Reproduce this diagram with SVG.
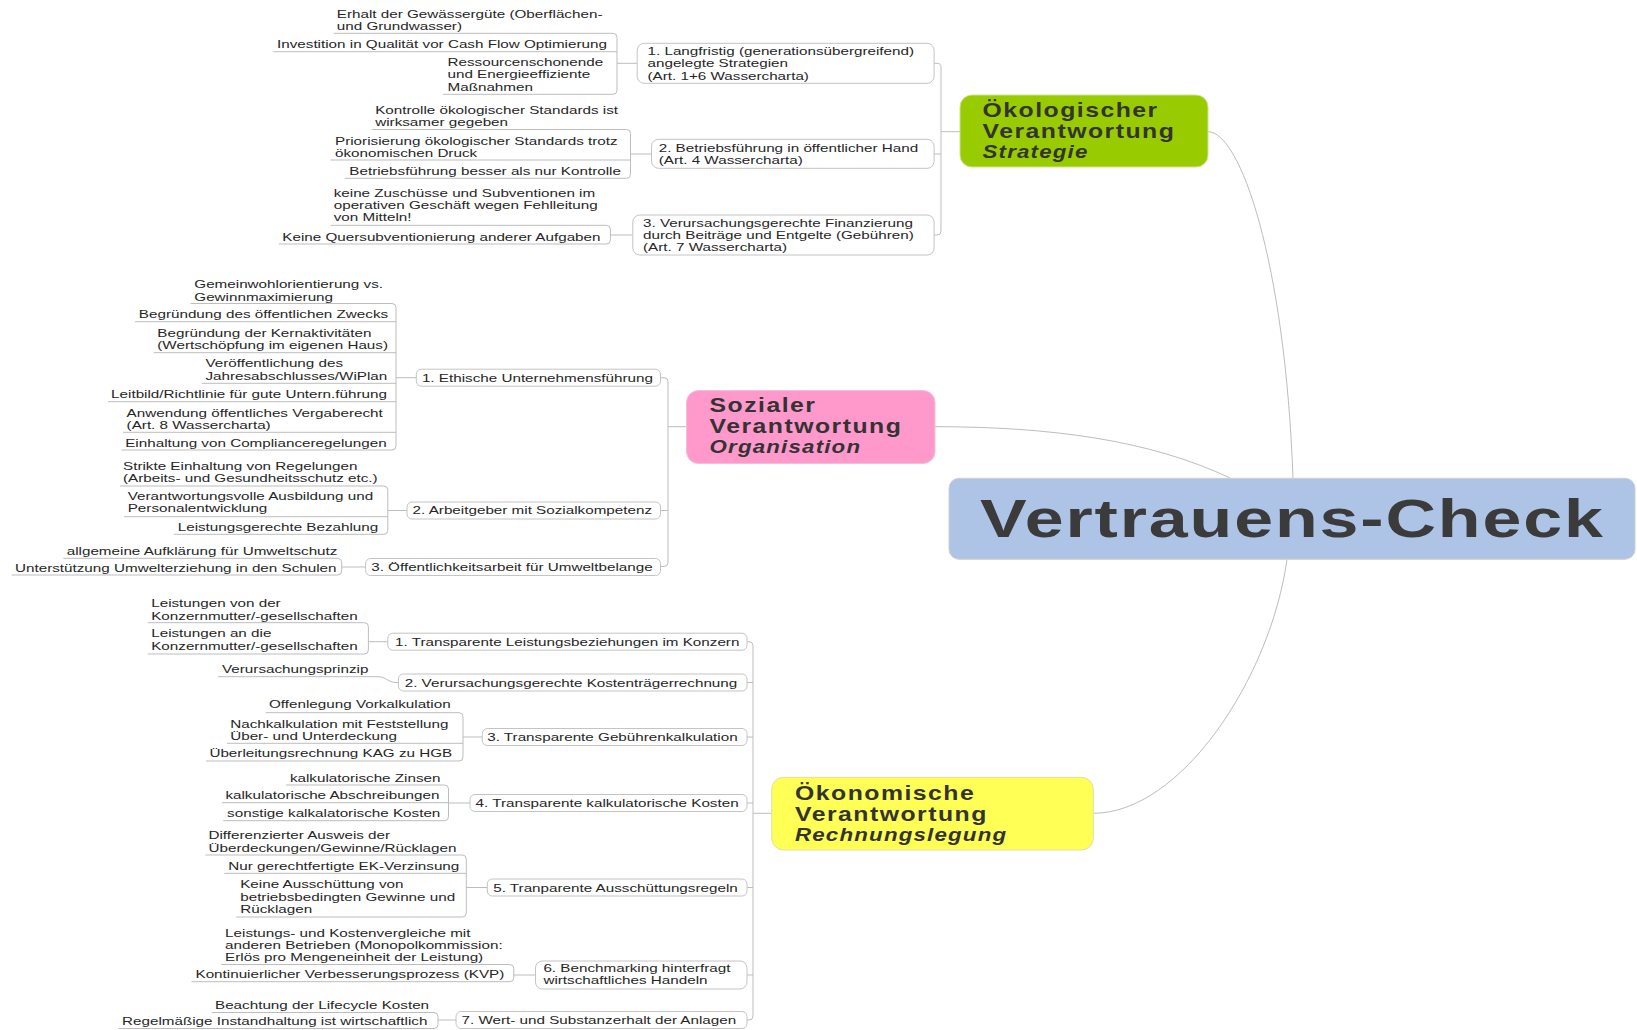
<svg xmlns="http://www.w3.org/2000/svg" width="1637" height="1030" viewBox="0 0 1637 1030">
<style>
.t{font-family:"Liberation Sans",Arial,sans-serif;font-size:11.2px;fill:#262626}
.h{font-family:"Liberation Sans",Arial,sans-serif;font-size:20px;font-weight:bold;fill:#333;letter-spacing:1.2px}
.hi{font-size:18px;font-style:italic;letter-spacing:0.95px}
.c{font-family:"Liberation Sans",Arial,sans-serif;font-size:53.8px;font-weight:bold;fill:#3b3b3b;letter-spacing:1.45px}
.ln{fill:none;stroke:#bdbdbd;stroke-width:1}
.bx{fill:#fff;stroke:#c4c4c4;stroke-width:1}
.mn{stroke:#cfcfcf;stroke-width:1}
</style>
<rect width="1637" height="1030" fill="#fff"/>

<g id="connectors" class="ln">
<path d="M1208 131.7 C1240 131.7 1285 260 1293 478"/>
<path d="M935 426.7 C1050 426.7 1150 440 1230 478"/>
<path d="M1093.3 813.3 C1180 813.3 1270 680 1287 559.5"/>
<path d="M934.1 63.3 H937 Q941 63.3 941 67.3 V231 Q941 235 937 235 H934.1 M934.1 154 H941 M941 131.7 H960"/>
<path d="M613 33.3 Q617 33.3 617 37.3 V90.3 Q617 94.3 613 94.3 M617 63.3 H637.2"/>
<path d="M626.5 129.5 Q630.5 129.5 630.5 133.5 V174.3 Q630.5 178.3 626.5 178.3 M630.5 154 H651.5"/>
<path d="M606.4 225.3 Q610.4 225.3 610.4 229.3 V240 Q610.4 244 606.4 244 M610.4 235 H632.8"/>
<path d="M660.5 377.7 H664 Q668 377.7 668 381.7 V562.5 Q668 566.5 664 566.5 H660.5 M660.5 510.5 H668 M668 426.7 H686.5"/>
<path d="M392 303.5 Q396 303.5 396 307.5 V446 Q396 450 392 450 M396 377.7 H416.3"/>
<path d="M383.8 486 Q387.8 486 387.8 490 V530.3 Q387.8 534.3 383.8 534.3 M387.8 510.5 H407"/>
<path d="M337.7 558.3 Q341.7 558.3 341.7 562.3 V571 Q341.7 575 337.7 575 M341.7 567 H365.6"/>
<path d="M747 641.7 H749 Q753 641.7 753 645.7 V1016 Q753 1020 749 1020 H747 M747 682.5 H753 M747 737 H753 M747 803 H753 M747 887.5 H753 M747 975 H753 M753 813.3 H771.7"/>
<path d="M364.4 622.7 Q368.4 622.7 368.4 626.7 V650 Q368.4 654 364.4 654 M368.4 641.7 H387.8"/>
<path d="M378 676.7 C386 676.7 388 682.5 396 682.5 H398.4"/>
<path d="M459 712.7 Q463 712.7 463 716.7 V757 Q463 761 459 761 M463 737 H482.3"/>
<path d="M444.5 785 Q448.5 785 448.5 789 V816.7 Q448.5 820.7 444.5 820.7 M448.5 803 H470"/>
<path d="M462.3 855 Q466.3 855 466.3 859 V913 Q466.3 917 462.3 917 M466.3 887.5 H487.3"/>
<path d="M509.8 964.5 Q513.8 964.5 513.8 968.5 V977.7 Q513.8 981.7 509.8 981.7 M513.8 975 H535.5"/>
<path d="M434 1012.5 Q438 1012.5 438 1016.5 V1024.5 Q438 1028.5 434 1028.5 M438 1020 H456"/>
</g>

<g id="center">
<rect x="949" y="478.3" width="686" height="81" rx="10" fill="#adc4e6" class="mn"/>
<text class="c" transform="translate(980 536.7) scale(1.3 1)">Vertrauens-Check</text>
</g>

<g id="oekologisch">
<rect x="960" y="95" width="248" height="72" rx="12" fill="#99cc00" stroke="#cfe08f"/>
<text class="h" transform="translate(982.5 117) scale(1.24 1)"><tspan x="0">Ökologischer</tspan><tspan x="0" dy="21">Verantwortung</tspan><tspan x="0" dy="20.5" class="hi">Strategie</tspan></text>
</g>
<g id="a1"><rect class="bx" x="637.2" y="43.3" width="296.9" height="40" rx="7"/>
<text class="t" transform="translate(647.5 55) scale(1.36 1)"><tspan x="0">1. Langfristig (generationsübergreifend)</tspan><tspan x="0" dy="12.3">angelegte Strategien</tspan><tspan x="0" dy="12.3">(Art. 1+6 Wassercharta)</tspan></text></g>
<g id="a2"><rect class="bx" x="651.5" y="139.3" width="282.6" height="29" rx="7"/>
<text class="t" transform="translate(658.7 151.5) scale(1.36 1)"><tspan x="0">2. Betriebsführung in öffentlicher Hand</tspan><tspan x="0" dy="12.3">(Art. 4 Wassercharta)</tspan></text></g>
<g id="a3"><rect class="bx" x="632.8" y="215" width="301.3" height="40" rx="7"/>
<text class="t" transform="translate(643 226.8) scale(1.36 1)"><tspan x="0">3. Verursachungsgerechte Finanzierung</tspan><tspan x="0" dy="12.3">durch Beiträge und Entgelte (Gebühren)</tspan><tspan x="0" dy="12.3">(Art. 7 Wassercharta)</tspan></text></g>

<g id="a1-1"><path class="ln" d="M333.7 33.3H613"/><text class="t" transform="translate(336.8 17.8) scale(1.36 1)"><tspan x="0">Erhalt der Gewässergüte (Oberflächen-</tspan><tspan x="0" dy="12">und Grundwasser)</tspan></text></g>
<g id="a1-2"><path class="ln" d="M273.4 51.7H617"/><text class="t" transform="translate(277 48.3) scale(1.36 1)">Investition in Qualität vor Cash Flow Optimierung</text></g>
<g id="a1-3"><path class="ln" d="M443 94.3H613"/><text class="t" transform="translate(447.5 66) scale(1.36 1)"><tspan x="0">Ressourcenschonende</tspan><tspan x="0" dy="12.3">und Energieeffiziente</tspan><tspan x="0" dy="12.3">Maßnahmen</tspan></text></g>
<g id="a2-1"><path class="ln" d="M371.6 129.5H626.5"/><text class="t" transform="translate(375.2 113.8) scale(1.36 1)"><tspan x="0">Kontrolle ökologischer Standards ist</tspan><tspan x="0" dy="12.3">wirksamer gegeben</tspan></text></g>
<g id="a2-2"><path class="ln" d="M330.5 160H630.5"/><text class="t" transform="translate(335 145) scale(1.36 1)"><tspan x="0">Priorisierung ökologischer Standards trotz</tspan><tspan x="0" dy="12.3">ökonomischen Druck</tspan></text></g>
<g id="a2-3"><path class="ln" d="M344.8 178.3H626.5"/><text class="t" transform="translate(349.3 175.2) scale(1.36 1)">Betriebsführung besser als nur Kontrolle</text></g>
<g id="a3-1"><path class="ln" d="M330.5 225.3H606.4"/><text class="t" transform="translate(333.7 196.7) scale(1.36 1)"><tspan x="0">keine Zuschüsse und Subventionen im</tspan><tspan x="0" dy="12.3">operativen Geschäft wegen Fehlleitung</tspan><tspan x="0" dy="12.3">von Mitteln!</tspan></text></g>
<g id="a3-2"><path class="ln" d="M278.8 244H606.4"/><text class="t" transform="translate(282.3 240.7) scale(1.36 1)">Keine Quersubventionierung anderer Aufgaben</text></g>

<g id="sozial">
<rect x="686.5" y="390.5" width="248.5" height="73" rx="12" fill="#ff99cc" stroke="#f0c0d8"/>
<text class="h" transform="translate(709.5 411.7) scale(1.24 1)"><tspan x="0">Sozialer</tspan><tspan x="0" dy="21.3">Verantwortung</tspan><tspan x="0" dy="20.5" class="hi">Organisation</tspan></text>
</g>
<g id="b1"><rect class="bx" x="416.3" y="369.2" width="244.2" height="17" rx="5"/><text class="t" transform="translate(421.9 381.6) scale(1.36 1)">1. Ethische Unternehmensführung</text></g>
<g id="b2"><rect class="bx" x="407" y="502" width="253.5" height="17" rx="5"/><text class="t" transform="translate(412.6 514.2) scale(1.36 1)">2. Arbeitgeber mit Sozialkompetenz</text></g>
<g id="b3"><rect class="bx" x="365.6" y="558.5" width="294.9" height="17" rx="5"/><text class="t" transform="translate(371.2 570.7) scale(1.36 1)">3. Öffentlichkeitsarbeit für Umweltbelange</text></g>

<g id="b1-1"><path class="ln" d="M190.6 303.5H392"/><text class="t" transform="translate(194.3 288.3) scale(1.36 1)"><tspan x="0">Gemeinwohlorientierung vs.</tspan><tspan x="0" dy="12.3">Gewinnmaximierung</tspan></text></g>
<g id="b1-2"><path class="ln" d="M135 321.7H396"/><text class="t" transform="translate(138.8 318.3) scale(1.36 1)">Begründung des öffentlichen Zwecks</text></g>
<g id="b1-3"><path class="ln" d="M153.6 352.7H396"/><text class="t" transform="translate(157.3 336.7) scale(1.36 1)"><tspan x="0">Begründung der Kernaktivitäten</tspan><tspan x="0" dy="12.3">(Wertschöpfung im eigenen Haus)</tspan></text></g>
<g id="b1-4"><path class="ln" d="M201.7 383.3H396"/><text class="t" transform="translate(205.4 367.3) scale(1.36 1)"><tspan x="0">Veröffentlichung des</tspan><tspan x="0" dy="12.3">Jahresabschlusses/WiPlan</tspan></text></g>
<g id="b1-5"><path class="ln" d="M108 401.7H396"/><text class="t" transform="translate(111.1 398.3) scale(1.36 1)">Leitbild/Richtlinie für gute Untern.führung</text></g>
<g id="b1-6"><path class="ln" d="M123 432.3H396"/><text class="t" transform="translate(126.6 416.7) scale(1.36 1)"><tspan x="0">Anwendung öffentliches Vergaberecht</tspan><tspan x="0" dy="12.3">(Art. 8 Wassercharta)</tspan></text></g>
<g id="b1-7"><path class="ln" d="M121.5 450H392"/><text class="t" transform="translate(125.2 446.7) scale(1.36 1)">Einhaltung von Complianceregelungen</text></g>
<g id="b2-1"><path class="ln" d="M120 486H383.8"/><text class="t" transform="translate(123 469.5) scale(1.36 1)"><tspan x="0">Strikte Einhaltung von Regelungen</tspan><tspan x="0" dy="12.3">(Arbeits- und Gesundheitsschutz etc.)</tspan></text></g>
<g id="b2-2"><path class="ln" d="M124 516.7H387.8"/><text class="t" transform="translate(127.7 500.2) scale(1.36 1)"><tspan x="0">Verantwortungsvolle Ausbildung und</tspan><tspan x="0" dy="12.3">Personalentwicklung</tspan></text></g>
<g id="b2-3"><path class="ln" d="M174 534.3H383.8"/><text class="t" transform="translate(177.7 530.7) scale(1.36 1)">Leistungsgerechte Bezahlung</text></g>
<g id="b3-1"><path class="ln" d="M63.3 558.3H337.7"/><text class="t" transform="translate(66.7 555) scale(1.36 1)">allgemeine Aufklärung für Umweltschutz</text></g>
<g id="b3-2"><path class="ln" d="M11.7 575H337.7"/><text class="t" transform="translate(15 571.7) scale(1.36 1)">Unterstützung Umwelterziehung in den Schulen</text></g>

<g id="oekonomisch">
<rect x="771.7" y="777.3" width="321.6" height="72.7" rx="12" fill="#ffff55" stroke="#e0e0a0"/>
<text class="h" transform="translate(795 800) scale(1.24 1)"><tspan x="0">Ökonomische</tspan><tspan x="0" dy="21">Verantwortung</tspan><tspan x="0" dy="20.5" class="hi">Rechnungslegung</tspan></text>
</g>
<g id="c1"><rect class="bx" x="387.8" y="633.2" width="359.2" height="17" rx="5"/><text class="t" transform="translate(395 645.8) scale(1.36 1)">1. Transparente Leistungsbeziehungen im Konzern</text></g>
<g id="c2"><rect class="bx" x="398.4" y="674" width="348.6" height="17" rx="5"/><text class="t" transform="translate(404.7 686.5) scale(1.36 1)">2. Verursachungsgerechte Kostenträgerrechnung</text></g>
<g id="c3"><rect class="bx" x="482.3" y="728.5" width="264.7" height="17" rx="5"/><text class="t" transform="translate(487.2 741) scale(1.36 1)">3. Transparente Gebührenkalkulation</text></g>
<g id="c4"><rect class="bx" x="470" y="794.5" width="277" height="17" rx="5"/><text class="t" transform="translate(475.5 807.3) scale(1.36 1)">4. Transparente kalkulatorische Kosten</text></g>
<g id="c5"><rect class="bx" x="487.3" y="879" width="259.7" height="17" rx="5"/><text class="t" transform="translate(493.2 891.7) scale(1.36 1)">5. Tranparente Ausschüttungsregeln</text></g>
<g id="c6"><rect class="bx" x="535.5" y="961" width="211.5" height="28" rx="7"/><text class="t" transform="translate(543.4 972) scale(1.36 1)"><tspan x="0">6. Benchmarking hinterfragt</tspan><tspan x="0" dy="12.3">wirtschaftliches Handeln</tspan></text></g>
<g id="c7"><rect class="bx" x="456" y="1011.5" width="291" height="17" rx="5"/><text class="t" transform="translate(461.5 1024) scale(1.36 1)">7. Wert- und Substanzerhalt der Anlagen</text></g>

<g id="c1-1"><path class="ln" d="M147.8 622.7H364.4"/><text class="t" transform="translate(151.2 607.3) scale(1.36 1)"><tspan x="0">Leistungen von der</tspan><tspan x="0" dy="12.3">Konzernmutter/-gesellschaften</tspan></text></g>
<g id="c1-2"><path class="ln" d="M147.8 654H364.4"/><text class="t" transform="translate(151.2 637.3) scale(1.36 1)"><tspan x="0">Leistungen an die</tspan><tspan x="0" dy="12.3">Konzernmutter/-gesellschaften</tspan></text></g>
<g id="c2-1"><path class="ln" d="M218 676.7H378"/><text class="t" transform="translate(222 672.7) scale(1.36 1)">Verursachungsprinzip</text></g>
<g id="c3-1"><path class="ln" d="M265.6 712.7H459"/><text class="t" transform="translate(269 708.3) scale(1.36 1)">Offenlegung Vorkalkulation</text></g>
<g id="c3-2"><path class="ln" d="M226.9 743.3H463"/><text class="t" transform="translate(230.2 727.7) scale(1.36 1)"><tspan x="0">Nachkalkulation mit Feststellung</tspan><tspan x="0" dy="12.3">Über- und Unterdeckung</tspan></text></g>
<g id="c3-3"><path class="ln" d="M206 761H459"/><text class="t" transform="translate(209.4 757.3) scale(1.36 1)">Überleitungsrechnung KAG zu HGB</text></g>
<g id="c4-1"><path class="ln" d="M286 785H444.5"/><text class="t" transform="translate(289.9 781.7) scale(1.36 1)">kalkulatorische Zinsen</text></g>
<g id="c4-2"><path class="ln" d="M222 802.7H448.5"/><text class="t" transform="translate(225.4 799) scale(1.36 1)">kalkulatorische Abschreibungen</text></g>
<g id="c4-3"><path class="ln" d="M223.2 820.7H444.5"/><text class="t" transform="translate(227.1 816.7) scale(1.36 1)">sonstige kalkalatorische Kosten</text></g>
<g id="c5-1"><path class="ln" d="M205.4 855H462.3"/><text class="t" transform="translate(208.5 839.3) scale(1.36 1)"><tspan x="0">Differenzierter Ausweis der</tspan><tspan x="0" dy="12.3">Überdeckungen/Gewinne/Rücklagen</tspan></text></g>
<g id="c5-2"><path class="ln" d="M224.3 873.3H466.3"/><text class="t" transform="translate(228.3 870) scale(1.36 1)">Nur gerechtfertigte EK-Verzinsung</text></g>
<g id="c5-3"><path class="ln" d="M236.2 917H462.3"/><text class="t" transform="translate(240.2 888.3) scale(1.36 1)"><tspan x="0">Keine Ausschüttung von</tspan><tspan x="0" dy="12.3">betriebsbedingten Gewinne und</tspan><tspan x="0" dy="12.3">Rücklagen</tspan></text></g>
<g id="c6-1"><path class="ln" d="M221.2 964.5H509.8"/><text class="t" transform="translate(225.1 936.7) scale(1.36 1)"><tspan x="0">Leistungs- und Kostenvergleiche mit</tspan><tspan x="0" dy="12.3">anderen Betrieben (Monopolkommission:</tspan><tspan x="0" dy="12.3">Erlös pro Mengeneinheit der Leistung)</tspan></text></g>
<g id="c6-2"><path class="ln" d="M191.5 981.7H509.8"/><text class="t" transform="translate(195.5 978.3) scale(1.36 1)">Kontinuierlicher Verbesserungsprozess (KVP)</text></g>
<g id="c7-1"><path class="ln" d="M211.7 1012.5H434"/><text class="t" transform="translate(215 1009) scale(1.36 1)">Beachtung der Lifecycle Kosten</text></g>
<g id="c7-2"><path class="ln" d="M118.5 1028.5H434"/><text class="t" transform="translate(122 1025) scale(1.36 1)">Regelmäßige Instandhaltung ist wirtschaftlich</text></g>
</svg>
